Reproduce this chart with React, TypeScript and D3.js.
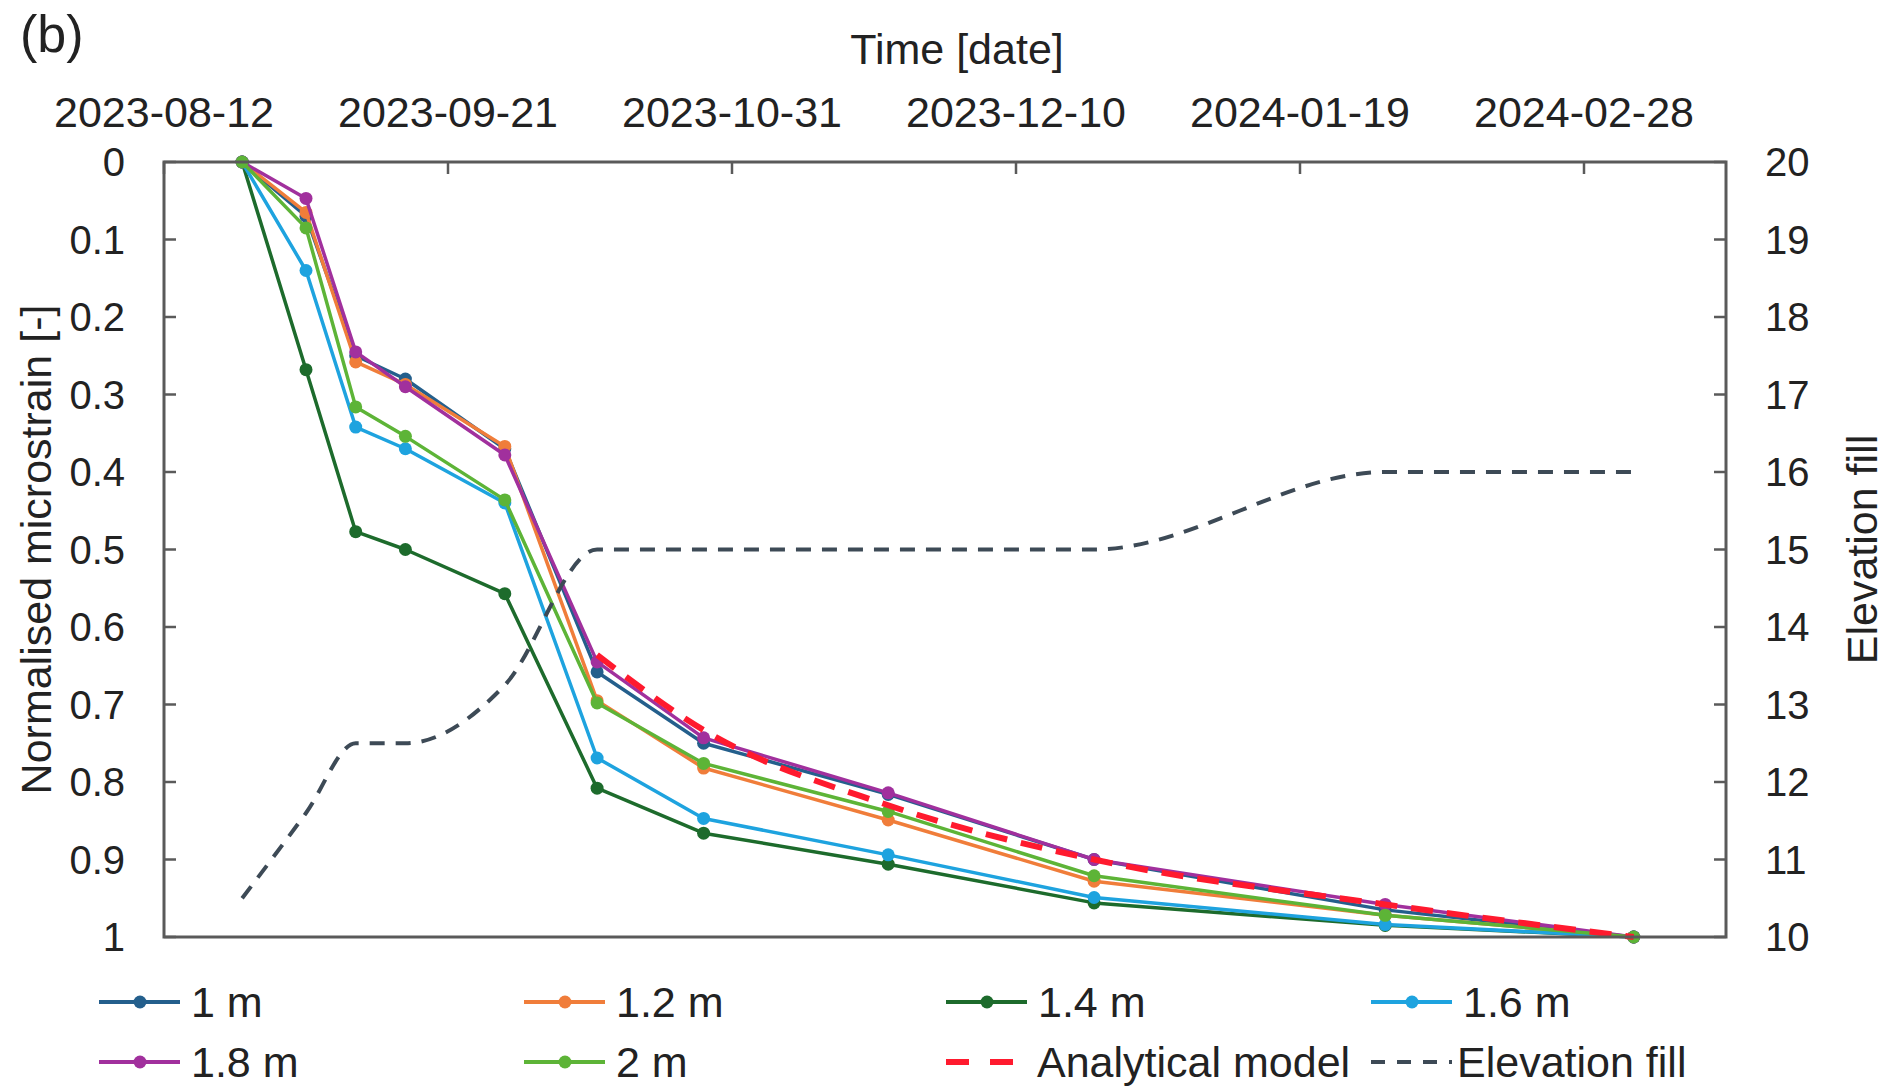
import * as d3 from "d3";

const dates = [
  "2023-08-23", "2023-09-01", "2023-09-08", "2023-09-15", "2023-09-29",
  "2023-10-12", "2023-10-27", "2023-11-22", "2023-12-21", "2024-01-31", "2024-03-06",
];

const tickDates = ["2023-08-12", "2023-09-21", "2023-10-31", "2023-12-10", "2024-01-19", "2024-02-28"];

const s1m = [0, 0.07, 0.25, 0.28, 0.37, 0.658, 0.75, 0.816, 0.9, 0.965, 1];
const s12m = [0, 0.065, 0.258, 0.287, 0.367, 0.695, 0.782, 0.849, 0.928, 0.972, 1];
const s14m = [0, 0.268, 0.477, 0.5, 0.557, 0.808, 0.866, 0.906, 0.956, 0.985, 1];
const s16m = [0, 0.14, 0.342, 0.37, 0.44, 0.769, 0.847, 0.894, 0.949, 0.984, 1];
const s18m = [0, 0.047, 0.245, 0.29, 0.378, 0.645, 0.743, 0.814, 0.9, 0.958, 1];
const s2m = [0, 0.085, 0.316, 0.354, 0.436, 0.698, 0.776, 0.838, 0.921, 0.972, 1];

// analytical model starts at the 6th date
const modelValues = [0.636, 0.733, 0.83, 0.9, 0.958, 1];
const elevation = [10.5, 11.6, 12.5, 12.5, 13.25, 15, 15, 15, 15, 16, 16];

const leftTicks = [0, 0.1, 0.2, 0.3, 0.4, 0.5, 0.6, 0.7, 0.8, 0.9, 1];
const rightTicks = [20, 19, 18, 17, 16, 15, 14, 13, 12, 11, 10];

const series = [
  { name: "1 m", color: "#245f8c", values: s1m },
  { name: "1.2 m", color: "#f07d3a", values: s12m },
  { name: "1.4 m", color: "#1d6b2c", values: s14m },
  { name: "1.6 m", color: "#1ea3df", values: s16m },
  { name: "1.8 m", color: "#a1309d", values: s18m },
  { name: "2 m", color: "#5db437", values: s2m },
];

const FONT = "'Liberation Sans', Arial, sans-serif";
const AXIS = "#5a5a5a";
const TEXT = "#222";

export default function App() {
  const W = 1902;
  const H = 1088;
  const left = 164, right = 1726, top = 162, bottom = 937;

  const parse = (s: string) => new Date(s + "T00:00:00Z");
  const x = d3
    .scaleUtc()
    .domain([parse("2023-08-12"), parse("2024-03-19")])
    .range([left, right]);
  const y = d3.scaleLinear().domain([0, 1]).range([top, bottom]);
  const yR = d3.scaleLinear().domain([20, 10]).range([top, bottom]);

  const pts = dates.map(parse);

  const line = d3
    .line<number>()
    .x((_, i) => x(pts[i]))
    .y((d) => y(d));

  const modelLine = d3
    .line<number>()
    .x((_, i) => x(pts[i + 5]))
    .y((d) => y(d))
    .curve(d3.curveMonotoneX);

  const elevLine = d3
    .line<number>()
    .x((_, i) => x(pts[i]))
    .y((d) => yR(d))
    .curve(d3.curveMonotoneX);

  // legend layout
  const colX = [99, 524, 946, 1371];
  const rowY = [1002, 1062];

  return (
    <svg
      width={W}
      height={H}
      style={{ position: "absolute", left: 0, top: 0, display: "block", background: "#fff" }}
      fontFamily={FONT}
    >
      <text x={20} y={52} fontSize={52} fill={TEXT}>(b)</text>
      <text x={957} y={64} fontSize={43} fill={TEXT} textAnchor="middle">Time [date]</text>

      {/* top date axis */}
      {tickDates.map((d) => (
        <g key={d}>
          <text x={x(parse(d))} y={127} fontSize={43} fill={TEXT} textAnchor="middle">{d}</text>
          <line x1={x(parse(d))} x2={x(parse(d))} y1={top} y2={top + 12} stroke={AXIS} strokeWidth={2.5} />
        </g>
      ))}

      {/* left axis */}
      {leftTicks.map((t) => (
        <g key={t}>
          <line x1={left} x2={left + 12} y1={y(t)} y2={y(t)} stroke={AXIS} strokeWidth={2.5} />
          <text x={125} y={y(t)} dy="0.35em" fontSize={40} fill={TEXT} textAnchor="end">{t}</text>
        </g>
      ))}

      {/* right axis */}
      {rightTicks.map((t) => (
        <g key={t}>
          <line x1={right - 12} x2={right} y1={yR(t)} y2={yR(t)} stroke={AXIS} strokeWidth={2.5} />
          <text x={1765} y={yR(t)} dy="0.35em" fontSize={40} fill={TEXT}>{t}</text>
        </g>
      ))}

      <text
        transform={`translate(36,${(top + bottom) / 2}) rotate(-90)`}
        fontSize={43}
        fill={TEXT}
        textAnchor="middle"
        dy="0.35em"
      >
        Normalised microstrain [-]
      </text>
      <text
        transform={`translate(1862,${(top + bottom) / 2}) rotate(-90)`}
        fontSize={43}
        fill={TEXT}
        textAnchor="middle"
        dy="0.35em"
      >
        Elevation fill
      </text>

      {/* data */}
      {series.map((s) => (
        <g key={s.name}>
          <path d={line(s.values) || ""} fill="none" stroke={s.color} strokeWidth={3.5} strokeLinejoin="round" />
          {s.values.map((v, i) => (
            <circle key={i} cx={x(pts[i])} cy={y(v)} r={6.5} fill={s.color} />
          ))}
        </g>
      ))}
      <path d={modelLine(modelValues) || ""} fill="none" stroke="#ff1a2e" strokeWidth={6} strokeDasharray="22 14" />
      <path d={elevLine(elevation) || ""} fill="none" stroke="#3d4a56" strokeWidth={4} strokeDasharray="15 11" />

      {/* frame */}
      <rect x={left} y={top} width={right - left} height={bottom - top} fill="none" stroke={AXIS} strokeWidth={3} />

      {/* legend */}
      {series.map((s, i) => {
        const cx = colX[i % 4];
        const cy = rowY[Math.floor(i / 4)];
        return (
          <g key={s.name}>
            <line x1={cx} x2={cx + 81} y1={cy} y2={cy} stroke={s.color} strokeWidth={4} />
            <circle cx={cx + 41} cy={cy} r={6.5} fill={s.color} />
            <text x={cx + 92} y={cy} dy="0.35em" fontSize={43} fill={TEXT}>{s.name}</text>
          </g>
        );
      })}
      <line x1={colX[2]} x2={colX[2] + 70} y1={rowY[1]} y2={rowY[1]} stroke="#ff1a2e" strokeWidth={6} strokeDasharray="23 21" />
      <text x={colX[2] + 91} y={rowY[1]} dy="0.35em" fontSize={43} fill={TEXT}>Analytical model</text>
      <line x1={colX[3]} x2={colX[3] + 81} y1={rowY[1]} y2={rowY[1]} stroke="#3d4a56" strokeWidth={4} strokeDasharray="14 12" />
      <text x={colX[3] + 86} y={rowY[1]} dy="0.35em" fontSize={43} fill={TEXT}>Elevation fill</text>
    </svg>
  );
}
